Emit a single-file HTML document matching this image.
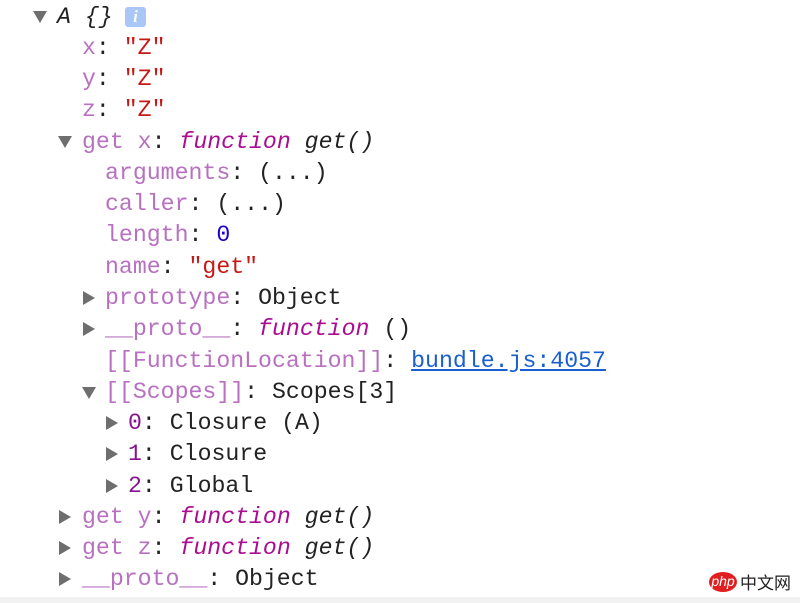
<!DOCTYPE html>
<html><head><meta charset="utf-8"><style>
body{margin:0;width:800px;height:603px;background:#fff;position:relative;overflow:hidden;font-family:"Liberation Mono",monospace;font-size:23.2px;color:#222}
.r{position:absolute;height:31px;line-height:31px;white-space:pre}
.t{position:absolute;width:0;height:0;border-left:7px solid transparent;border-right:7px solid transparent;border-top:12px solid #6e6e6e}
.tr{position:absolute;width:0;height:0;border-top:7px solid transparent;border-bottom:7px solid transparent;border-left:12px solid #6e6e6e}
.p{color:#b870c0}.s{color:#c41a16}.f{color:#aa0d91;font-style:italic}.i{font-style:italic}.n{color:#1c00cf}.d{color:#881391}
a{color:#1a5fd0;text-decoration:underline}
</style></head><body>
<div class="t" style="left:33px;top:11px"></div>
<div class="r i" style="left:57px;top:2px">A {}</div>
<div style="position:absolute;left:125px;top:7px;width:21px;height:20px;background:#a9c7f5;border-radius:3px;color:#fff;font:italic bold 17px 'Liberation Serif',serif;text-align:center;line-height:20px">i</div>
<div class="r" style="left:82px;top:33px"><span class="p">x</span>: <span class="s">"Z"</span></div>
<div class="r" style="left:82px;top:64px"><span class="p">y</span>: <span class="s">"Z"</span></div>
<div class="r" style="left:82px;top:95px"><span class="p">z</span>: <span class="s">"Z"</span></div>
<div class="t" style="left:58px;top:136px"></div>
<div class="r" style="left:82px;top:127px"><span class="p">get x</span>: <span class="f">function</span> <span class="i">get()</span></div>
<div class="r" style="left:105px;top:158px"><span class="p">arguments</span>: (...)</div>
<div class="r" style="left:105px;top:189px"><span class="p">caller</span>: (...)</div>
<div class="r" style="left:105px;top:220px"><span class="p">length</span>: <span class="n">0</span></div>
<div class="r" style="left:105px;top:252px"><span class="p">name</span>: <span class="s">"get"</span></div>
<div class="tr" style="left:83px;top:291px"></div>
<div class="r" style="left:105px;top:283px"><span class="p">prototype</span>: Object</div>
<div class="tr" style="left:83px;top:322px"></div>
<div class="r" style="left:105px;top:314px"><span class="p">__proto__</span>: <span class="f">function</span> ()</div>
<div class="r" style="left:105px;top:346px"><span class="p">[[FunctionLocation]]</span>: <a>bundle.js:4057</a></div>
<div class="t" style="left:82px;top:387px"></div>
<div class="r" style="left:105px;top:377px"><span class="p">[[Scopes]]</span>: Scopes[3]</div>
<div class="tr" style="left:106px;top:416px"></div>
<div class="r" style="left:128px;top:408px"><span class="d">0</span>: Closure (A)</div>
<div class="tr" style="left:106px;top:447px"></div>
<div class="r" style="left:128px;top:439px"><span class="d">1</span>: Closure</div>
<div class="tr" style="left:106px;top:479px"></div>
<div class="r" style="left:128px;top:471px"><span class="d">2</span>: Global</div>
<div class="tr" style="left:59px;top:510px"></div>
<div class="r" style="left:82px;top:502px"><span class="p">get y</span>: <span class="f">function</span> <span class="i">get()</span></div>
<div class="tr" style="left:59px;top:541px"></div>
<div class="r" style="left:82px;top:533px"><span class="p">get z</span>: <span class="f">function</span> <span class="i">get()</span></div>
<div class="tr" style="left:59px;top:572px"></div>
<div class="r" style="left:82px;top:564px"><span class="p">__proto__</span>: Object</div>
<div style="position:absolute;left:709px;top:572px;width:28px;height:20px;background:#e02020;border-radius:50%;color:#fff;font:italic 14px 'Liberation Sans',sans-serif;text-align:center;line-height:19px">php</div>
<div style="position:absolute;left:740px;top:571px;font:17px 'Noto Sans CJK SC',sans-serif;color:#222;line-height:22px">中文网</div>
<div style="position:absolute;left:0;top:597px;width:800px;height:6px;background:#f2f2f2"></div>
</body></html>
